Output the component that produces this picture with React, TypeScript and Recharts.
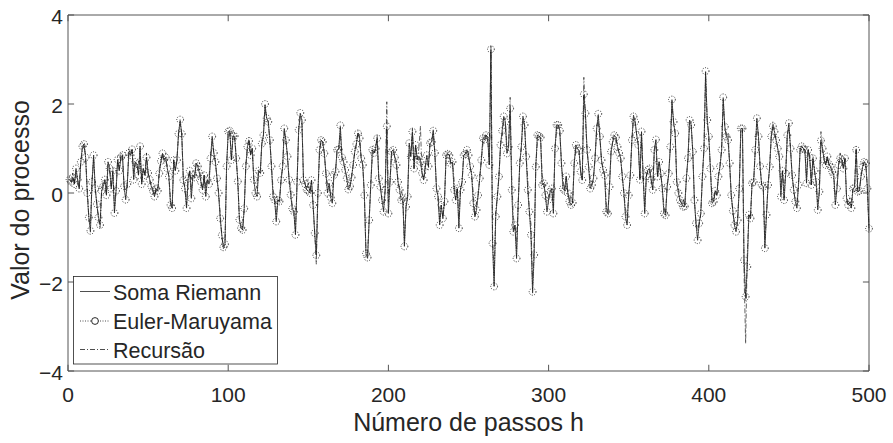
import React from 'react';
import { LineChart, Line, XAxis, YAxis, ReferenceArea, ReferenceLine } from 'recharts';

// valores, passos 1..500
const somaRiemann = [
  0.30,0.25,0.35,0.20,0.55,0.30,0.10,0.70,1.05,1.10,
  0.80,0.00,-0.55,-0.88,0.25,0.85,0.10,-0.25,-0.55,-0.70,
  0.05,0.15,0.30,-0.05,0.70,0.55,0.10,0.50,-0.45,0.05,
  0.75,0.50,0.78,0.85,0.15,-0.15,0.20,0.90,0.85,0.98,
  0.30,0.70,0.65,0.40,1.05,0.20,0.55,0.40,0.80,0.45,
  0.30,0.15,0.05,-0.08,0.10,0.05,0.44,0.70,0.89,0.75,
  0.80,0.55,0.37,-0.27,-0.34,0.74,0.50,0.74,1.33,1.63,
  1.33,0.29,0.10,-0.34,0.33,0.50,-0.12,0.40,0.35,0.67,
  0.60,0.45,0.25,0.07,0.40,-0.08,0.30,0.20,0.78,1.27,
  0.90,0.70,0.33,0.00,-0.57,-0.95,-1.20,-1.15,0.60,1.38,
  1.40,0.74,1.28,1.25,0.78,0.26,-0.60,-0.79,-0.83,-0.35,
  0.60,1.04,1.17,0.85,1.00,0.30,0.00,-0.08,0.50,0.45,
  1.11,1.30,1.98,1.68,1.60,1.19,0.60,-0.08,-0.16,-0.64,
  -0.16,-0.19,0.29,0.60,1.45,1.19,0.82,0.30,-0.04,-0.35,
  -0.42,-0.94,0.25,1.42,1.79,1.64,0.29,0.20,0.07,0.05,
  0.00,0.29,-0.27,-0.90,-1.39,0.00,0.97,1.19,1.15,0.89,
  0.44,0.00,0.22,-0.10,-0.23,0.40,0.48,0.97,0.98,1.49,
  0.80,0.70,0.52,0.33,0.08,0.15,0.35,0.63,0.93,1.10,
  1.34,1.23,0.78,0.63,-0.05,-1.36,-1.47,-0.61,0.18,0.97,
  0.90,1.00,1.23,0.33,0.14,-0.16,-0.42,0.07,1.45,-0.46,
  0.25,0.93,0.97,0.80,0.63,0.25,0.07,-0.16,-0.12,-1.20,
  -0.31,-0.08,1.12,0.82,1.38,0.55,1.08,0.75,0.82,0.70,
  0.45,0.29,0.59,0.85,0.60,1.12,1.15,1.42,0.90,0.10,
  -0.08,-0.72,-0.27,-0.57,-0.19,0.85,0.88,0.85,0.66,0.70,
  0.07,-0.16,0.10,-0.79,0.07,0.25,0.85,0.88,0.97,0.85,
  0.60,0.40,-0.23,-0.53,-0.38,-0.05,0.33,0.74,1.23,1.20,
  1.30,1.25,0.63,3.21,-1.13,-2.10,-0.53,-0.08,0.37,1.08,
  1.40,1.72,1.60,0.89,1.04,1.87,0.07,-0.87,-0.72,-1.47,
  -0.27,0.67,1.04,1.72,1.53,0.82,0.07,-0.42,-0.94,-2.25,
  -1.39,0.59,1.30,1.28,1.25,0.18,0.22,-0.05,-0.42,-0.15,
  0.03,0.10,-0.46,1.00,1.53,1.53,1.40,0.67,0.10,0.05,
  0.37,0.00,-0.19,-0.27,-0.22,0.67,1.08,1.00,0.95,0.48,
  0.29,2.20,1.79,0.97,0.59,0.10,0.18,0.33,0.78,1.45,
  1.75,1.27,0.74,0.52,0.40,-0.42,-0.46,0.14,0.93,1.15,
  1.30,1.25,1.04,0.90,0.78,0.37,0.00,-0.53,-0.72,-0.05,
  0.40,1.19,1.75,1.60,1.30,1.08,0.30,1.38,0.40,-0.46,
  0.37,0.52,0.55,0.30,0.07,0.97,1.20,0.37,0.70,0.44,
  0.10,-0.46,-0.50,0.14,0.44,1.04,2.09,1.60,1.34,0.25,
  0.00,-0.16,-0.23,-0.31,-0.30,0.33,0.78,1.64,1.53,0.93,
  -0.16,-0.68,-1.06,-0.68,-0.46,0.37,1.00,2.72,1.64,1.27,
  0.55,-0.23,-0.20,0.05,-0.05,0.37,0.60,0.97,2.13,1.49,
  1.27,1.19,0.67,-0.05,-0.40,-0.72,-0.87,-0.61,0.10,1.45,
  1.45,-1.51,-2.37,-1.66,-0.49,-0.57,0.22,0.25,0.97,1.68,
  1.27,0.60,0.18,0.14,-1.24,-0.49,0.18,0.59,1.27,1.49,
  1.38,1.19,1.00,0.82,-0.08,0.50,-0.16,0.44,1.30,1.57,
  1.00,0.40,0.07,-0.19,-0.34,0.18,0.97,1.05,1.00,0.97,
  0.22,0.97,0.80,0.18,0.78,0.50,0.25,-0.38,0.03,1.15,
  1.00,0.74,0.63,0.82,0.65,0.59,0.48,0.40,-0.27,0.10,
  0.63,0.78,0.75,0.55,0.78,-0.12,-0.27,-0.20,-0.34,0.10,
  0.12,0.97,0.03,0.05,0.37,0.59,0.70,0.67,0.10,-0.85,
];

const eulerMaruyama = [
  0.30,0.25,0.35,0.20,0.55,0.30,0.10,0.70,1.05,1.10,
  0.80,0.00,-0.55,-0.85,0.25,0.85,0.10,-0.25,-0.55,-0.72,
  0.05,0.15,0.30,-0.05,0.70,0.55,0.10,0.50,-0.45,0.05,
  0.75,0.50,0.80,0.85,0.15,-0.15,0.20,0.90,0.85,0.98,
  0.30,0.70,0.65,0.40,1.05,0.20,0.55,0.40,0.80,0.45,
  0.30,0.15,0.05,-0.08,0.10,0.05,0.44,0.72,0.89,0.75,
  0.80,0.55,0.37,-0.27,-0.34,0.74,0.50,0.74,1.33,1.65,
  1.33,0.29,0.10,-0.34,0.33,0.50,-0.12,0.40,0.35,0.67,
  0.60,0.45,0.25,0.07,0.40,-0.08,0.30,0.20,0.78,1.27,
  0.90,0.70,0.33,0.00,-0.57,-0.95,-1.22,-1.15,0.60,1.38,
  1.40,0.74,1.28,1.28,0.78,0.26,-0.60,-0.79,-0.83,-0.35,
  0.60,1.04,1.17,0.85,1.00,0.30,0.00,-0.08,0.50,0.45,
  1.11,1.30,2.00,1.68,1.60,1.19,0.60,-0.08,-0.16,-0.64,
  -0.16,-0.19,0.29,0.60,1.45,1.19,0.82,0.30,-0.04,-0.35,
  -0.42,-0.94,0.25,1.42,1.80,1.64,0.29,0.20,0.07,0.05,
  0.00,0.29,-0.27,-0.90,-1.40,0.00,0.97,1.19,1.15,0.89,
  0.44,0.00,0.22,-0.10,-0.23,0.40,0.48,0.97,0.98,1.52,
  0.80,0.70,0.52,0.33,0.08,0.15,0.35,0.63,0.93,1.10,
  1.34,1.23,0.78,0.63,-0.05,-1.36,-1.45,-0.61,0.18,0.97,
  0.90,1.00,1.23,0.33,0.14,-0.16,-0.42,0.07,1.50,-0.46,
  0.25,0.93,0.97,0.80,0.63,0.25,0.07,-0.16,-0.12,-1.20,
  -0.31,-0.08,1.12,0.82,1.38,0.55,1.08,0.75,0.82,0.70,
  0.45,0.29,0.59,0.85,0.60,1.12,1.15,1.40,0.90,0.10,
  -0.08,-0.72,-0.27,-0.57,-0.19,0.85,0.88,0.85,0.66,0.70,
  0.07,-0.16,0.10,-0.79,0.07,0.25,0.85,0.88,0.97,0.85,
  0.60,0.40,-0.23,-0.53,-0.38,-0.05,0.33,0.74,1.23,1.20,
  1.30,1.25,0.63,3.23,-1.13,-2.10,-0.53,-0.08,0.37,1.08,
  1.40,1.72,1.60,0.89,1.04,1.90,0.07,-0.87,-0.72,-1.47,
  -0.27,0.67,1.04,1.72,1.53,0.82,0.07,-0.42,-0.94,-2.22,
  -1.39,0.59,1.30,1.28,1.25,0.18,0.22,-0.05,-0.42,-0.15,
  0.03,0.10,-0.46,1.00,1.53,1.53,1.40,0.67,0.10,0.05,
  0.37,0.00,-0.19,-0.27,-0.22,0.67,1.08,1.00,0.95,0.48,
  0.29,2.22,1.79,0.97,0.59,0.10,0.18,0.33,0.78,1.45,
  1.78,1.27,0.74,0.52,0.40,-0.42,-0.46,0.14,0.93,1.15,
  1.30,1.25,1.04,0.90,0.78,0.37,0.00,-0.53,-0.72,-0.05,
  0.40,1.19,1.72,1.60,1.30,1.08,0.30,1.38,0.40,-0.46,
  0.37,0.52,0.55,0.30,0.07,0.97,1.20,0.37,0.70,0.44,
  0.10,-0.46,-0.50,0.14,0.44,1.04,2.10,1.60,1.34,0.25,
  0.00,-0.16,-0.23,-0.31,-0.30,0.33,0.78,1.64,1.53,0.93,
  -0.16,-0.68,-1.06,-0.68,-0.46,0.37,1.00,2.74,1.64,1.27,
  0.55,-0.23,-0.20,0.05,-0.05,0.37,0.60,0.97,2.15,1.49,
  1.27,1.19,0.67,-0.05,-0.40,-0.72,-0.87,-0.61,0.10,1.45,
  1.45,-1.51,-2.33,-1.66,-0.49,-0.57,0.22,0.25,0.97,1.68,
  1.27,0.60,0.18,0.14,-1.24,-0.49,0.18,0.59,1.27,1.50,
  1.38,1.19,1.00,0.82,-0.08,0.50,-0.16,0.44,1.30,1.57,
  1.00,0.40,0.07,-0.19,-0.34,0.18,0.97,1.05,1.00,0.97,
  0.22,0.97,0.80,0.18,0.78,0.50,0.25,-0.38,0.03,1.18,
  1.00,0.74,0.63,0.82,0.65,0.59,0.48,0.40,-0.27,0.10,
  0.63,0.78,0.75,0.55,0.78,-0.12,-0.27,-0.20,-0.34,0.10,
  0.12,0.97,0.03,0.05,0.37,0.59,0.70,0.67,0.10,-0.80,
];

const recursao = [
  0.30,0.25,0.45,0.20,0.45,0.30,0.10,0.70,0.95,1.10,
  0.80,0.15,-0.55,-0.70,0.25,0.75,0.10,-0.25,-0.55,-0.80,
  0.05,0.30,0.30,-0.05,0.60,0.55,0.10,0.50,-0.30,0.05,
  0.75,0.50,0.90,0.85,0.15,0.05,0.20,1.00,0.85,0.98,
  0.45,0.70,0.65,0.40,0.95,0.20,0.55,0.40,0.90,0.45,
  0.30,0.15,0.05,-0.08,0.10,0.05,0.55,0.70,0.89,0.75,
  0.80,0.55,0.37,-0.15,-0.34,0.74,0.50,0.74,1.33,1.55,
  1.33,0.29,0.10,-0.25,0.33,0.50,0.05,0.40,0.35,0.67,
  0.60,0.60,0.25,0.07,0.40,0.10,0.30,0.35,0.78,1.15,
  0.90,0.70,0.33,0.00,-0.45,-0.95,-1.25,-1.15,0.60,1.30,
  1.40,0.74,1.28,1.35,0.78,0.26,-0.60,-0.70,-0.83,-0.35,
  0.60,1.04,1.25,0.85,1.00,0.30,0.25,0.10,0.50,0.45,
  1.11,1.30,1.90,1.68,1.60,1.19,0.60,0.10,-0.16,-0.50,
  -0.16,-0.19,0.29,0.60,1.35,1.19,0.82,0.30,0.15,-0.35,
  -0.42,-0.85,0.25,1.42,1.70,1.64,0.29,0.20,0.07,0.25,
  0.00,0.29,-0.27,-0.90,-1.60,0.00,0.85,1.19,1.15,0.89,
  0.44,0.20,0.22,-0.10,-0.05,0.40,0.48,0.97,0.98,1.35,
  0.80,0.70,0.52,0.33,0.25,0.15,0.35,0.63,0.93,1.10,
  1.40,1.23,0.78,0.63,-0.05,-1.30,-1.35,-0.61,0.18,0.85,
  0.90,1.00,1.30,0.33,0.14,-0.16,-0.25,0.07,2.05,-0.20,
  0.25,0.93,0.97,0.80,0.75,0.25,0.07,0.10,-0.12,-1.05,
  -0.31,-0.08,0.95,0.82,1.45,0.55,1.08,0.75,1.00,1.50,
  0.45,0.29,0.59,0.70,0.60,1.12,1.15,1.35,0.90,0.10,
  -0.08,-0.55,-0.27,-0.57,-0.19,0.75,0.88,0.85,0.66,0.70,
  0.30,-0.16,0.10,-0.60,0.07,0.25,0.85,0.88,0.90,0.85,
  0.60,0.40,0.00,-0.53,-0.20,-0.05,0.33,0.74,1.10,1.20,
  1.30,1.25,0.63,3.30,-0.90,-1.85,-0.40,-0.08,0.37,1.08,
  1.25,1.60,1.60,1.05,1.04,2.15,0.35,-0.55,-0.72,-1.25,
  -0.27,0.67,1.04,1.60,1.53,0.82,0.30,-0.42,-0.70,-2.05,
  -1.10,0.59,1.15,1.28,1.25,0.40,0.22,-0.05,-0.20,-0.15,
  0.03,0.10,-0.30,1.00,1.40,1.53,1.40,0.67,0.30,0.05,
  0.37,0.00,-0.19,-0.05,-0.22,0.67,0.95,1.00,0.95,0.48,
  0.29,2.60,1.65,0.97,0.59,0.30,0.18,0.33,0.78,1.45,
  1.65,1.27,0.74,0.52,0.40,-0.25,-0.46,0.14,0.93,1.15,
  1.20,1.25,1.04,0.90,0.78,0.37,0.00,-0.35,-0.55,-0.05,
  0.40,1.19,1.65,1.60,1.30,1.08,0.30,1.25,0.40,-0.30,
  0.37,0.52,0.55,0.30,0.07,0.97,1.10,0.37,0.70,0.44,
  0.10,-0.30,-0.50,0.14,0.44,1.04,1.95,1.60,1.34,0.25,
  0.15,-0.16,-0.23,-0.15,-0.30,0.33,0.78,1.55,1.53,0.93,
  -0.16,-0.68,-0.85,-0.68,-0.46,0.37,1.00,2.60,1.64,1.27,
  0.55,-0.10,-0.20,0.05,-0.05,0.37,0.60,0.97,2.00,1.49,
  1.27,1.35,0.67,-0.05,-0.40,-0.72,-0.70,-0.61,0.10,1.35,
  1.45,-1.80,-3.38,-1.40,-0.49,-0.57,0.22,0.25,0.97,1.55,
  1.27,0.60,0.18,0.14,-1.05,-0.49,0.18,0.59,1.27,1.60,
  1.38,1.19,1.00,0.82,0.10,0.50,0.05,0.44,1.30,1.45,
  1.00,0.40,0.07,-0.19,-0.20,0.18,0.97,1.05,1.00,0.97,
  0.35,0.97,0.80,0.18,0.78,0.50,0.25,-0.20,0.03,1.38,
  1.00,0.74,0.63,0.82,0.65,0.59,0.48,0.40,-0.10,0.10,
  0.63,0.90,0.75,0.55,0.78,-0.12,-0.27,-0.20,-0.20,0.10,
  0.12,1.05,0.03,0.05,0.37,0.59,0.70,0.67,0.10,-0.78,
];

const xTicks = [0, 100, 200, 300, 400, 500];
const yTicks = [-4, -2, 0, 2, 4];

const W = 893;
const H = 443;
const FONT = '"Liberation Sans", Arial, Helvetica, sans-serif';
const INK = '#262626';
const BOX = '#555';
const LINE = '#222';
const MARK = '#111';

// comprimento dos ticks internos (unidades de dados)
const TICK_X = 3.8;
const TICK_Y = 0.14;

const data = somaRiemann.map((v, i) => ({
  passo: i + 1,
  riemann: v,
  euler: eulerMaruyama[i],
  recursao: recursao[i],
}));

const fmt = (v: number) => (v < 0 ? '\u2212' + Math.abs(v) : String(v));

const XTick = (props: any) => (
  <text x={props.x} y={402} textAnchor="middle" fontSize={21} fontFamily={FONT} fill={INK}>
    {props.payload.value}
  </text>
);

const YTick = (props: any) => (
  <text x={63} y={props.y + 9} textAnchor="end" fontSize={21} fontFamily={FONT} fill={INK}>
    {fmt(props.payload.value)}
  </text>
);

const Legenda = () => {
  const rows = [291.5, 321, 349.5];
  return (
    <g fontFamily={FONT} fontSize={21.5} fill={INK}>
      <rect x={73.5} y={276.5} width={204} height={87.5} fill="#fff" stroke={INK} strokeWidth={0.8} />
      <line x1={80} x2={110} y1={rows[0]} y2={rows[0]} stroke={LINE} strokeWidth={0.8} />
      <text x={113} y={rows[0] + 8}>Soma Riemann</text>
      <line x1={80} x2={110} y1={rows[1]} y2={rows[1]} stroke={LINE} strokeWidth={0.8} strokeDasharray="1 1.5" />
      <circle cx={95} cy={rows[1]} r={3.4} fill="#fff" stroke={MARK} strokeWidth={0.9} />
      <text x={113} y={rows[1] + 8}>Euler-Maruyama</text>
      <line x1={80} x2={110} y1={rows[2]} y2={rows[2]} stroke={LINE} strokeWidth={0.8} strokeDasharray="5 2 1 2" />
      <text x={113} y={rows[2] + 8}>Recursão</text>
    </g>
  );
};

export default function App() {
  return (
    <div style={{ position: 'absolute', left: 0, top: 0, width: W, height: H, background: '#fff' }}>
      <LineChart width={W} height={H} data={data} margin={{ top: 15, right: 24, bottom: 0, left: 0 }}>
        <XAxis
          dataKey="passo"
          type="number"
          domain={[0, 500]}
          ticks={xTicks}
          height={72}
          axisLine={false}
          tickLine={false}
          tick={XTick}
          interval={0}
        />
        <YAxis
          type="number"
          domain={[-4, 4]}
          ticks={yTicks}
          width={68}
          axisLine={false}
          tickLine={false}
          tick={YTick}
          interval={0}
        />
        <ReferenceArea x1={0} x2={500} y1={-4} y2={4} fill="none" stroke={BOX} strokeWidth={1} />
        {xTicks.flatMap((t) => [
          <ReferenceLine key={'xb' + t} segment={[{ x: t, y: -4 }, { x: t, y: -4 + TICK_Y }]} stroke={BOX} />,
          <ReferenceLine key={'xt' + t} segment={[{ x: t, y: 4 }, { x: t, y: 4 - TICK_Y }]} stroke={BOX} />,
        ])}
        {yTicks.flatMap((t) => [
          <ReferenceLine key={'yl' + t} segment={[{ x: 0, y: t }, { x: TICK_X, y: t }]} stroke={BOX} />,
          <ReferenceLine key={'yr' + t} segment={[{ x: 500, y: t }, { x: 500 - TICK_X, y: t }]} stroke={BOX} />,
        ])}
        <Line
          type="linear"
          dataKey="riemann"
          stroke={LINE}
          strokeWidth={0.7}
          dot={false}
          isAnimationActive={false}
        />
        <Line
          type="linear"
          dataKey="euler"
          stroke={LINE}
          strokeWidth={0.7}
          strokeDasharray="1 1.5"
          dot={{ r: 3.4, fill: 'none', stroke: MARK, strokeWidth: 0.9 }}
          isAnimationActive={false}
        />
        <Line
          type="linear"
          dataKey="recursao"
          stroke={LINE}
          strokeWidth={0.7}
          strokeDasharray="5 2 1 2"
          dot={false}
          isAnimationActive={false}
        />
      </LineChart>
      <svg width={W} height={H} style={{ position: 'absolute', left: 0, top: 0, pointerEvents: 'none' }}>
        <text
          transform="translate(29,200) rotate(-90)"
          textAnchor="middle"
          fontSize={25}
          fontFamily={FONT}
          fill={INK}
        >
          Valor do processo
        </text>
        <text x={468.5} y={431} textAnchor="middle" fontSize={25} fontFamily={FONT} fill={INK}>
          Número de passos h
        </text>
        <Legenda />
      </svg>
    </div>
  );
}
